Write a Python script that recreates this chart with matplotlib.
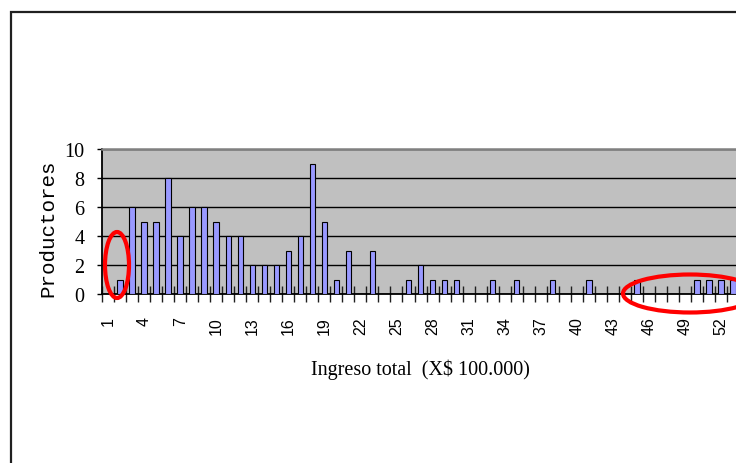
import matplotlib
matplotlib.use("Agg")
import matplotlib.pyplot as plt
from matplotlib.patches import Ellipse, Rectangle
from matplotlib.ticker import MultipleLocator, FixedLocator

# --- data: number of producers per income class (X$ 100.000) ---
clases = list(range(1, 54))
productores = [0, 1, 6, 5, 5, 8, 4, 6, 6, 5,
               4, 4, 2, 2, 2, 3, 4, 9, 5, 1,
               3, 0, 3, 0, 0, 1, 2, 1, 1, 1,
               0, 0, 1, 0, 1, 0, 0, 1, 0, 0,
               1, 0, 0, 0, 1, 0, 0, 0, 0, 1,
               1, 1, 1]
etiquetas = clases[::3]

W, H = 736, 464
fig = plt.figure(figsize=(W / 100, H / 100), dpi=100)
fig.patch.set_facecolor("white")

def fx(px):
    return px / W

def fy(py):
    return 1 - py / H

# plot area runs off the right edge of the page
n_vis = 56
px_cat = 12.02
ax_left, ax_top, ax_bot = 102, 150, 295
ax = fig.add_axes([fx(ax_left), fy(ax_bot), (n_vis * px_cat) / W, (ax_bot - ax_top) / H])
ax.set_facecolor("#C0C0C0")

ax.bar(clases, productores, width=0.45, color="#9999FF",
       edgecolor="black", linewidth=0.8, zorder=3)

ax.set_xlim(0.5, n_vis + 0.5)
ax.set_ylim(0, 10)

# gridlines
ax.yaxis.set_major_locator(MultipleLocator(2))
ax.grid(axis="y", color="black", linewidth=1.0, zorder=1)
ax.set_axisbelow(True)

ax.spines["right"].set_visible(False)
ax.spines["top"].set_color("#808080")
ax.spines["top"].set_linewidth(1.8)
ax.spines["left"].set_color("black")
ax.spines["left"].set_linewidth(1.3)
ax.spines["bottom"].set_color("black")
ax.spines["bottom"].set_linewidth(1.3)

# y ticks
ax.tick_params(axis="y", direction="out", length=3.6, width=1.0, pad=9,
               labelsize=14.5, color="black")
for t in ax.get_yticklabels():
    t.set_fontfamily("Liberation Serif")

# x ticks: marks on class boundaries, labels every third class
ax.xaxis.set_major_locator(FixedLocator(etiquetas))
ax.xaxis.set_minor_locator(FixedLocator([c + 0.5 for c in range(0, n_vis + 1)]))
ax.set_xticklabels([str(e) for e in etiquetas], rotation=90,
                   fontfamily="Liberation Sans", fontsize=11.5)
ax.tick_params(axis="x", which="major", length=0, pad=16)
ax.tick_params(axis="x", which="minor", direction="inout", length=11.5,
               width=1.0, color="#202020")

# axis titles
fig.text(fx(48), fy(228), "Productores", rotation=90, ha="center", va="center",
         fontfamily="Liberation Mono", fontsize=15, color="black")
fig.text(fx(420), fy(370), "Ingreso total  (X$ 100.000)", ha="center", va="center",
         fontfamily="Liberation Serif", fontsize=14.5, color="black")

# outer frame of the chart object
fig.add_artist(Rectangle((fx(11), -0.1), 1.2, fy(12.5) + 0.1, transform=fig.transFigure,
                         fill=False, edgecolor="#202020", linewidth=1.6))

# red markings
fig.add_artist(Ellipse((fx(117), fy(266)), 24 / W, 66 / H, transform=fig.transFigure,
                       fill=False, edgecolor="#FF0000", linewidth=3.0, zorder=10))
fig.add_artist(Ellipse((fx(690), fy(294.5)), 134 / W, 38 / H, transform=fig.transFigure,
                       fill=False, edgecolor="#FF0000", linewidth=3.0, zorder=10))

fig.savefig("out.png", dpi=100, facecolor="white")
